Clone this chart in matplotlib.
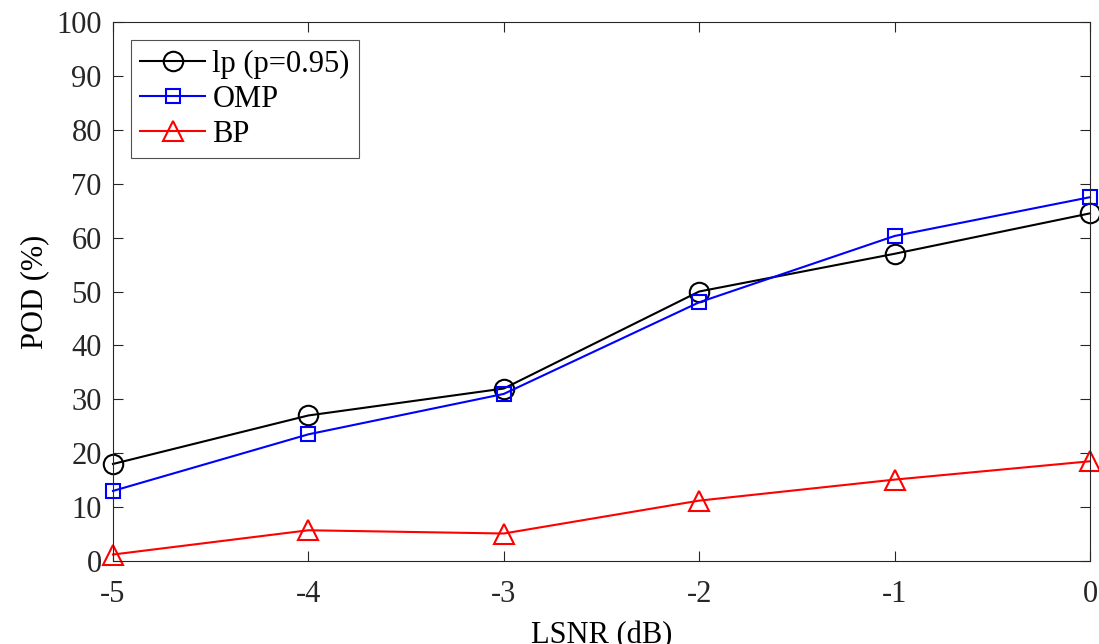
import numpy as np
import matplotlib
matplotlib.use('Agg')
import matplotlib.pyplot as plt

# LSNR values and POD (%) for each method
lsnr = [-5, -4, -3, -2, -1, 0]
pod_lp = [18, 27, 32, 50, 57, 64.5]
pod_omp = [13, 23.5, 31, 48, 60.3, 67.5]
pod_bp = [1.2, 5.7, 5.1, 11.2, 15.1, 18.5]

plt.rcParams['font.family'] = ['Liberation Serif', 'DejaVu Serif']
plt.rcParams['axes.unicode_minus'] = False

fig = plt.figure(figsize=(10.99, 6.44), dpi=100)
ax = fig.add_axes([0.1028, 0.1289, 0.8890, 0.8369])

ax.plot(lsnr, pod_lp, '-o', color='black', lw=1.5, ms=14, mfc='none', mew=1.5, label='lp (p=0.95)', clip_on=False)
ax.plot(lsnr, pod_omp, '-s', color='blue', lw=1.5, ms=10, mfc='none', mew=1.5, label='OMP', clip_on=False)
ax.plot(lsnr, pod_bp, '-^', color='red', lw=1.5, ms=15, mfc='none', mew=1.5, label='BP', clip_on=False)

ax.set_xlim(-5, 0)
ax.set_ylim(0, 100)
ax.set_xticks(lsnr)
ax.set_yticks(np.arange(0, 101, 10))
ax.tick_params(direction='in', top=True, right=True, labelsize=22, length=7, width=0.8, colors='#262626')
ax.tick_params(axis='x', pad=14)
ax.tick_params(axis='y', pad=8)
for sp in ax.spines.values():
    sp.set_color('#262626')
    sp.set_linewidth(0.8)
ax.set_xlabel('LSNR (dB)', fontsize=22, labelpad=8)
ax.set_ylabel('POD (%)', fontsize=22, labelpad=5)

leg = ax.legend(loc='upper left', fontsize=22, frameon=True, fancybox=False, edgecolor='#262626',
                borderaxespad=0.6, handlelength=2.1, borderpad=0.3, labelspacing=0.2, handletextpad=0.25)
leg.get_frame().set_linewidth(0.8)

fig.savefig('out.png', dpi=100)
